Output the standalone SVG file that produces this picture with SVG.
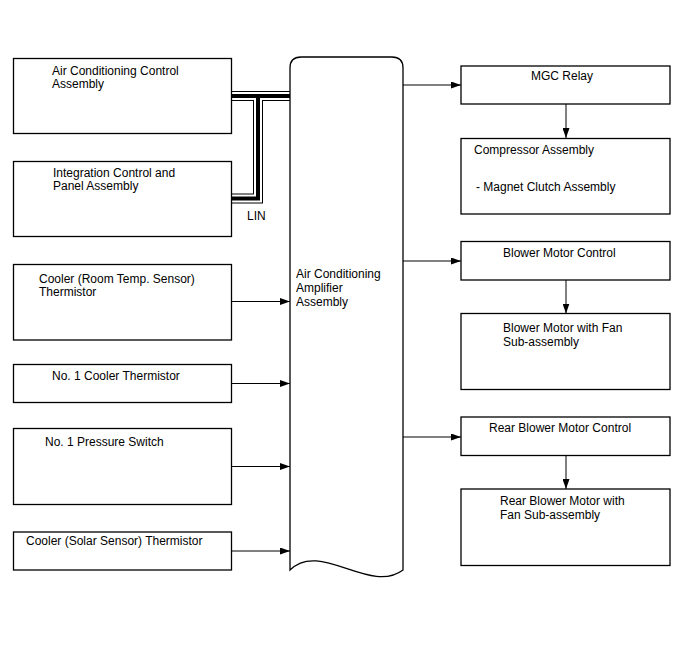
<svg xmlns="http://www.w3.org/2000/svg" width="688" height="658" viewBox="0 0 688 658">
<style>
.box{fill:#fff;stroke:#000;stroke-width:1.3}
text{font-family:"Liberation Sans",Arial,sans-serif;font-size:12px;fill:#000}
.ln{fill:none;stroke:#000;stroke-width:1}
.b1{fill:none;stroke:#000;stroke-width:10;stroke-linejoin:miter}
.b2{fill:none;stroke:#fff;stroke-width:8;stroke-linejoin:miter}
.b3{fill:none;stroke:#000;stroke-width:4;stroke-linejoin:miter}
</style>
<defs>
<marker id="ah" markerWidth="10" markerHeight="7" refX="10" refY="3.5" orient="auto" markerUnits="userSpaceOnUse">
<path d="M0,0 L10,3.5 L0,7 Z" fill="#000"/>
</marker>
</defs>
<rect width="688" height="658" fill="#fff"/>

<g id="connectors">
<path class="b1" d="M231,96 H290 M258,96 V198.5 H231"/>
<path class="b2" d="M231,96 H290 M258,96 V198.5 H231"/>
<path class="b3" d="M231,96 H290 M258,96 V198.5 H231"/>
<line class="ln" x1="231" y1="301.5" x2="290" y2="301.5" marker-end="url(#ah)"/>
<line class="ln" x1="231" y1="383.5" x2="290" y2="383.5" marker-end="url(#ah)"/>
<line class="ln" x1="231" y1="466.5" x2="290" y2="466.5" marker-end="url(#ah)"/>
<line class="ln" x1="231" y1="551" x2="290" y2="551" marker-end="url(#ah)"/>
<line class="ln" x1="403" y1="85" x2="461" y2="85" marker-end="url(#ah)"/>
<line class="ln" x1="403" y1="261" x2="461" y2="261" marker-end="url(#ah)"/>
<line class="ln" x1="403" y1="437" x2="461" y2="437" marker-end="url(#ah)"/>
<line class="ln" x1="566" y1="104" x2="566" y2="138" marker-end="url(#ah)"/>
<line class="ln" x1="566" y1="280" x2="566" y2="313.5" marker-end="url(#ah)"/>
<line class="ln" x1="566" y1="455.5" x2="566" y2="489" marker-end="url(#ah)"/>
<text x="247" y="220">LIN</text>
</g>

<g id="amplifier">
<path class="box" d="M290,570 V68 Q290,57 301,57 H392 Q403,57 403,68 V570 C370,595 320,540 290,570 Z"/>
<text x="296" y="278">Air Conditioning</text>
<text x="296" y="292">Amplifier</text>
<text x="296" y="306">Assembly</text>
</g>

<g id="ac-control">
<rect class="box" x="13.5" y="58.5" width="218" height="75"/>
<text x="52" y="75">Air Conditioning Control</text>
<text x="52" y="88">Assembly</text>
</g>
<g id="integration-panel">
<rect class="box" x="13.5" y="161.5" width="218" height="75"/>
<text x="53" y="177">Integration Control and</text>
<text x="53" y="190">Panel Assembly</text>
</g>
<g id="room-temp">
<rect class="box" x="13.5" y="264.5" width="218" height="75.5"/>
<text x="39" y="283">Cooler (Room Temp. Sensor)</text>
<text x="39" y="296">Thermistor</text>
</g>
<g id="cooler-thermistor">
<rect class="box" x="13.5" y="364.5" width="218" height="38"/>
<text x="52" y="380">No. 1 Cooler Thermistor</text>
</g>
<g id="pressure-switch">
<rect class="box" x="13.5" y="428.5" width="218" height="76"/>
<text x="45" y="445.5">No. 1 Pressure Switch</text>
</g>
<g id="solar-sensor">
<rect class="box" x="13.5" y="532" width="218" height="38"/>
<text x="26" y="545">Cooler (Solar Sensor) Thermistor</text>
</g>

<g id="mgc-relay">
<rect class="box" x="461" y="66" width="209" height="38"/>
<text x="562" y="80" text-anchor="middle">MGC Relay</text>
</g>
<g id="compressor">
<rect class="box" x="461" y="138.5" width="209" height="75.5"/>
<text x="474" y="153.5">Compressor Assembly</text>
<text x="476" y="191">- Magnet Clutch Assembly</text>
</g>
<g id="blower-control">
<rect class="box" x="461" y="241.5" width="209" height="38.5"/>
<text x="503" y="257">Blower Motor Control</text>
</g>
<g id="blower-motor">
<rect class="box" x="461" y="313.5" width="209" height="76"/>
<text x="503" y="332">Blower Motor with Fan</text>
<text x="503" y="346">Sub-assembly</text>
</g>
<g id="rear-blower-control">
<rect class="box" x="461" y="417" width="209" height="38.5"/>
<text x="489" y="431.5">Rear Blower Motor Control</text>
</g>
<g id="rear-blower-motor">
<rect class="box" x="461" y="489" width="209" height="76.5"/>
<text x="500" y="505">Rear Blower Motor with</text>
<text x="500" y="518.5">Fan Sub-assembly</text>
</g>
</svg>
